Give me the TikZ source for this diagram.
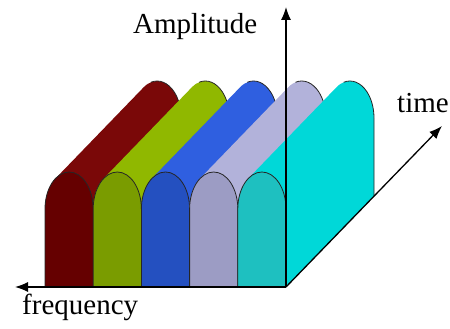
\documentclass[tikz,border=0pt]{standalone}
\usepackage{fontspec}
\setmainfont{Liberation Serif}
\usetikzlibrary{arrows.meta}
\definecolor{redF}{HTML}{650000}
\definecolor{redB}{HTML}{7A0808}
\definecolor{greenF}{HTML}{7A9C00}
\definecolor{greenB}{HTML}{90B800}
\definecolor{blueF}{HTML}{2450C0}
\definecolor{blueB}{HTML}{2F5FE0}
\definecolor{lavF}{HTML}{9C9CC4}
\definecolor{lavB}{HTML}{B2B2DA}
\definecolor{cyanF}{HTML}{1EC0C0}
\definecolor{cyanB}{HTML}{00D8D8}
\begin{document}
\begin{tikzpicture}[x=1pt,y=1pt,
  outl/.style={draw=black!85, line width=0.8pt},
  axis/.style={line width=1.3pt, -{Latex[length=13pt,width=10pt]}},
  lab/.style={font=\fontsize{29}{30}\selectfont, anchor=base west, inner sep=0pt}]
\useasboundingbox (0,0) rectangle (450,329);
\def\dx{88}\def\dy{91}\def\rx{24.1}\def\ry{37}\def\tz{123.9}
\foreach \i/\cf/\cb in {0/redF/redB,1/greenF/greenB,2/blueF/blueB,3/lavF/lavB,4/cyanF/cyanB}{
  \pgfmathsetmacro\L{45+48.2*\i}
  \pgfmathsetmacro\R{\L+2*\rx}
  \pgfmathsetmacro\S{157-\ry}
  % swept body
  \fill[\cb] (\L,42) -- (\L,\S)
     arc[start angle=180,end angle=\tz,x radius=\rx pt,y radius=\ry pt]
     -- ++(\dx,\dy)
     arc[start angle=\tz,end angle=0,x radius=\rx pt,y radius=\ry pt]
     -- (\R+\dx,42+\dy) -- (\R,42) -- cycle;
  % back outline
  \draw[outl] (\L+\rx+\dx,\S+\dy) ++(105:\rx pt and \ry pt)
     arc[start angle=105,end angle=0,x radius=\rx pt,y radius=\ry pt]
     -- (\R+\dx,42+\dy);
  % front face
  \filldraw[fill=\cf, outl] (\L,42) -- (\L,\S)
     arc[start angle=180,end angle=0,x radius=\rx pt,y radius=\ry pt]
     -- (\R,42) -- cycle;
}
\coordinate (O) at (286,42);
\coordinate (F) at (15,42);
\coordinate (A) at (286,322);
\coordinate (T) at (442,203);
\draw[axis] (O) -- (F);
\draw[axis] (O) -- (A);
\draw[axis] (O) -- (T);
\node[lab] (amp) at (133,295) {Amplitude};
\node[lab] (time) at (397,216) {time};
\node[lab] (freq) at (22,14) {frequency};
\end{tikzpicture}
\end{document}
